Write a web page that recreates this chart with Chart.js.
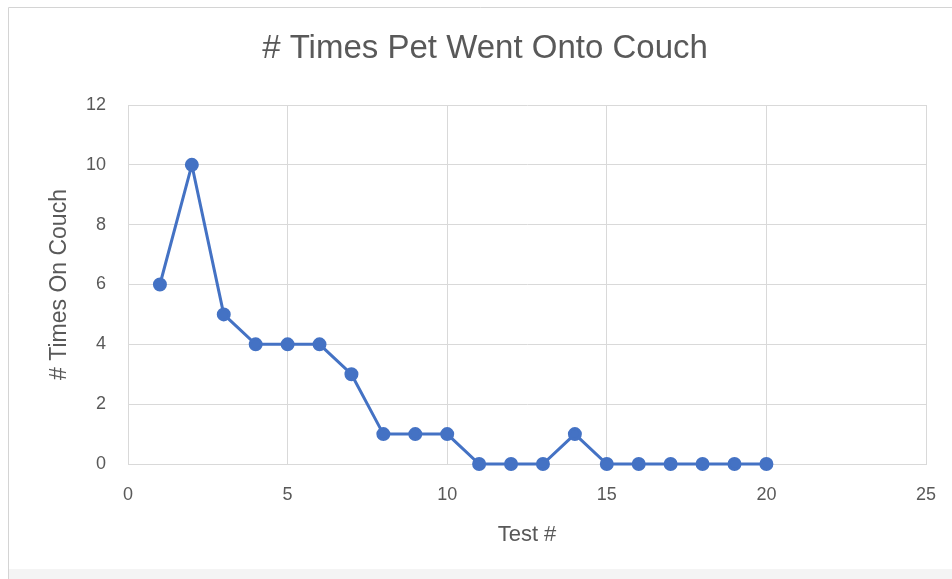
<!DOCTYPE html>
<html>
<head>
<meta charset="utf-8">
<script src="https://cdn.jsdelivr.net/npm/chart.js@4"></script>
<style>
  html, body { margin: 0; padding: 0; background: #ffffff; }
  #wrap { width: 952px; height: 579px; position: relative; }
</style>
</head>
<body>
<div id="wrap"><canvas id="c" width="952" height="579"></canvas></div>
<script>
// Test number and how many times the pet got onto the couch in that test
const testNumbers = [1, 2, 3, 4, 5, 6, 7, 8, 9, 10, 11, 12, 13, 14, 15, 16, 17, 18, 19, 20];
const timesOnCouch = [6, 10, 5, 4, 4, 4, 3, 1, 1, 1, 0, 0, 0, 1, 0, 0, 0, 0, 0, 0];
const xTicks = [0, 5, 10, 15, 20, 25];
const yTicks = [0, 2, 4, 6, 8, 10, 12];

const points = testNumbers.map((x, i) => ({ x: x, y: timesOnCouch[i] }));

const FONT = "'Liberation Sans', Arial, sans-serif";
const TEXT = '#595959';
const GRID = '#d9d9d9';
const BLUE = '#4472c4';

// Light frame around the whole chart
const frame = {
  id: 'frame',
  beforeDraw(chart) {
    const ctx = chart.ctx;
    ctx.save();
    ctx.fillStyle = '#f4f4f4';
    ctx.fillRect(8, 569, chart.width - 8, chart.height - 569);
    ctx.strokeStyle = '#d4d4d4';
    ctx.lineWidth = 1;
    ctx.beginPath();
    ctx.moveTo(8.5, chart.height);
    ctx.lineTo(8.5, 7.5);
    ctx.lineTo(chart.width, 7.5);
    ctx.stroke();
    ctx.restore();
  }
};

new Chart(document.getElementById('c'), {
  type: 'scatter',
  data: {
    datasets: [{
      data: points,
      showLine: true,
      clip: false,
      borderColor: BLUE,
      backgroundColor: BLUE,
      borderWidth: 3,
      pointRadius: 5.5,
      pointHoverRadius: 5.5,
      pointBackgroundColor: BLUE,
      pointBorderColor: BLUE,
      tension: 0
    }]
  },
  plugins: [frame],
  options: {
    responsive: false,
    animation: false,
    devicePixelRatio: 1,
    layout: { padding: { left: 44, right: 26, top: 0, bottom: 0 } },
    plugins: {
      legend: { display: false },
      tooltip: { enabled: false },
      title: {
        display: true,
        text: '# Times Pet Went Onto Couch',
        color: TEXT,
        font: { family: FONT, size: 33, weight: 'normal', lineHeight: 1.2 },
        padding: { top: 29, bottom: 36.4 }
      }
    },
    scales: {
      x: {
        type: 'linear',
        min: 0,
        max: 25,
        afterBuildTicks(scale) { scale.ticks = xTicks.map(v => ({ value: v })); },
        afterFit(scale) {
          scale.height = 115;
          scale.paddingLeft = 0;
          scale.paddingRight = 0;
        },
        grid: { color: GRID, lineWidth: 1, drawTicks: false },
        border: { color: GRID },
        ticks: { color: TEXT, font: { family: FONT, size: 18 }, padding: 20, maxRotation: 0 },
        title: {
          display: true,
          text: 'Test #',
          color: TEXT,
          font: { family: FONT, size: 22 },
          padding: { top: 0, bottom: 31 }
        }
      },
      y: {
        min: 0,
        max: 12,
        afterBuildTicks(scale) { scale.ticks = yTicks.map(v => ({ value: v })); },
        afterFit(scale) { scale.width = 84; },
        grid: { color: GRID, lineWidth: 1, drawTicks: false },
        border: { color: GRID },
        ticks: { color: TEXT, font: { family: FONT, size: 18 }, padding: 22 },
        title: {
          display: true,
          text: '# Times On Couch',
          color: TEXT,
          font: { family: FONT, size: 23 },
          padding: { top: 2, bottom: 0 }
        }
      }
    }
  }
});
</script>
</body>
</html>
